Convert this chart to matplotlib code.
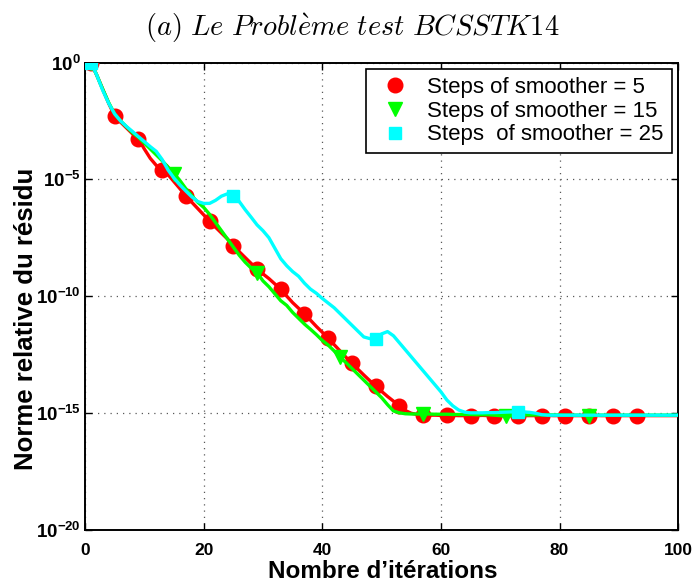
import numpy as np
import matplotlib
matplotlib.use("Agg")
import matplotlib.pyplot as plt
from matplotlib.ticker import FixedLocator, NullLocator

plt.rcParams['font.family'] = ['Liberation Sans', 'DejaVu Sans']
plt.rcParams['mathtext.fontset'] = 'custom'
plt.rcParams['mathtext.rm'] = 'Liberation Sans:bold'
plt.rcParams['mathtext.bf'] = 'Liberation Sans:bold'
plt.rcParams['mathtext.it'] = 'Liberation Sans:bold'

# ---- data (log10 of relative residual, per iteration) ----
iters = np.arange(1, 101)

red_log = [0, -0.55, -1.15, -1.75, -2.29, -2.55, -2.8, -3.05, -3.26, -3.7,
           -4.1, -4.4, -4.60, -4.8, -5.1, -5.4, -5.71, -5.98, -6.25, -6.52,
           -6.78, -7.05, -7.3, -7.55, -7.84, -8.1, -8.35, -8.6, -8.83, -9.05,
           -9.25, -9.48, -9.71, -10.0, -10.28, -10.52, -10.77, -11.03, -11.3, -11.55,
           -11.81, -12.08, -12.35, -12.62, -12.88, -13.13, -13.38, -13.62, -13.85, -14.08,
           -14.3, -14.5, -14.69, -14.9, -15.02, -15.07, -15.09, -15.1, -15.1, -15.11,
           -15.11, -15.11, -15.12, -15.12, -15.12, -15.12, -15.11, -15.12, -15.12, -15.12,
           -15.12, -15.11, -15.12, -15.12, -15.12, -15.12, -15.12, -15.11, -15.12, -15.12,
           -15.12, -15.12, -15.12, -15.12, -15.12, -15.11, -15.12, -15.12, -15.12, -15.12,
           -15.12, -15.12, -15.12, -15.12, -15.12, -15.12, -15.12, -15.12, -15.12, -15.12]

green_log = [0, -0.55, -1.15, -1.72, -2.2, -2.5, -2.75, -3.0, -3.2, -3.45,
             -3.7, -3.95, -4.2, -4.48, -4.75, -5.05, -5.4, -5.7, -5.98, -6.2,
             -6.5, -6.85, -7.2, -7.55, -7.9, -8.25, -8.55, -8.8, -9.0, -9.35,
             -9.6, -9.9, -10.2, -10.4, -10.7, -10.95, -11.2, -11.42, -11.65, -11.9,
             -12.1, -12.35, -12.62, -12.85, -13.1, -13.35, -13.6, -13.85, -14.1, -14.35,
             -14.65, -14.92, -15.0, -15.04, -15.05, -15.05, -15.05, -15.05, -15.06, -15.06,
             -15.06, -15.07, -15.07, -15.07, -15.07, -15.08, -15.08, -15.08, -15.1, -15.12,
             -15.15, -15.12, -15.1, -15.09, -15.09, -15.09, -15.09, -15.09, -15.09, -15.09,
             -15.1, -15.1, -15.1, -15.11, -15.13, -15.11, -15.1, -15.1, -15.1, -15.1,
             -15.1, -15.1, -15.1, -15.1, -15.1, -15.1, -15.1, -15.1, -15.1, -15.1]

cyan_log = [0, -0.55, -1.2, -1.75, -2.2, -2.5, -2.74, -2.95, -3.17, -3.38,
            -3.6, -3.8, -4.15, -4.6, -4.95, -5.24, -5.5, -5.75, -5.95, -6.03,
            -6.03, -5.9, -5.72, -5.62, -5.72, -5.95, -6.3, -6.62, -6.95, -7.2,
            -7.5, -7.95, -8.4, -8.7, -8.95, -9.15, -9.45, -9.7, -9.88, -10.1,
            -10.3, -10.5, -10.75, -11.0, -11.25, -11.5, -11.75, -11.82, -11.85, -11.62,
            -11.52, -11.7, -12.0, -12.3, -12.6, -12.9, -13.2, -13.5, -13.8, -14.1,
            -14.45, -14.7, -14.88, -14.97, -15.0, -15.0, -15.0, -14.99, -14.99, -14.98,
            -14.97, -14.96, -14.95, -14.96, -14.98, -15.02, -15.08, -15.1, -15.1, -15.1,
            -15.1, -15.1, -15.1, -15.1, -15.1, -15.1, -15.1, -15.1, -15.1, -15.1,
            -15.1, -15.1, -15.1, -15.1, -15.1, -15.1, -15.1, -15.1, -15.1, -15.1]

red_marks = list(range(0, 93, 4))      # iterations 1,5,...,93
green_marks = list(range(0, 86, 14))   # iterations 1,15,...,85
cyan_marks = list(range(0, 74, 24))    # iterations 1,25,49,73

labels = ['Steps of smoother = 5', 'Steps of smoother = 15', 'Steps  of smoother = 25']
xticks = [0, 20, 40, 60, 80, 100]
yticks_exp = [0, -5, -10, -15, -20]

red = 10.0 ** np.array(red_log)
green = 10.0 ** np.array(green_log)
cyan = 10.0 ** np.array(cyan_log)

fig = plt.figure(figsize=(6.97, 5.84), dpi=100)
ax = fig.add_axes([0.122, 0.0932, 0.851, 0.7996])

lw = 2.4
ax.plot(iters, red, color='#FF0000', lw=lw, zorder=3)
ax.plot(iters, red, color='#FF0000', ls='none', marker='o', ms=10.5,
        markevery=red_marks, label=labels[0], zorder=3)
ax.plot(iters, green, color='#00FF00', lw=lw, zorder=4)
ax.plot(iters, green, color='#00FF00', ls='none', marker='v', ms=10.5,
        markevery=green_marks, label=labels[1], zorder=4)
ax.plot(iters, cyan, color='#00FFFF', lw=lw, zorder=5)
ax.plot(iters, cyan, color='#00FFFF', ls='none', marker='s', ms=8,
        markevery=cyan_marks, label=labels[2], zorder=5)

ax.set_yscale('log')
ax.set_xlim(0, 100)
ax.set_ylim(1e-20, 1e0)
ax.set_xticks(xticks)
ax.set_xticklabels([str(t) for t in xticks], fontweight='bold', fontsize=12.5)
ax.yaxis.set_major_locator(FixedLocator([10.0 ** e for e in yticks_exp]))
ax.yaxis.set_minor_locator(NullLocator())
ax.set_yticklabels([r'$10^{%d}$' % e if e == 0 else r'$10^{-%d}$' % (-e) for e in yticks_exp],
                   fontsize=13.5)

ax.tick_params(axis='x', which='major', pad=10)
ax.tick_params(axis='y', which='major', pad=3)
ax.tick_params(axis='both', which='major', direction='in', length=5, width=1,
               top=True, right=True)
ax.grid(True, which='major', linestyle=(0, (1, 4)), color='0.35', lw=0.9)
for s in ax.spines.values():
    s.set_linewidth(1.4)

fig.text(383 / 697, 1 - 578 / 584, "Nombre d\u2019itérations", fontsize=17.5,
         fontweight='bold', ha='center', va='baseline')
fig.text(26 / 697, 1 - 319 / 584, "Norme relative du résidu", fontsize=18.5,
         fontweight='bold', ha='center', va='center', rotation=90)

fig.text(0.505, 0.952, r'$(a)\ Le\ Probl\grave{e}me\ test\ BCSSTK14$',
         ha='center', va='center', fontsize=20.5,
         math_fontfamily='cm')

leg = ax.legend(loc='upper right', fontsize=16, frameon=True, fancybox=False,
                edgecolor='black', framealpha=1, borderaxespad=0.3,
                handletextpad=0.5, labelspacing=0.12, handlelength=1.9,
                borderpad=0.35)
leg.get_frame().set_linewidth(1.2)

fig.savefig('out.png', dpi=100)
